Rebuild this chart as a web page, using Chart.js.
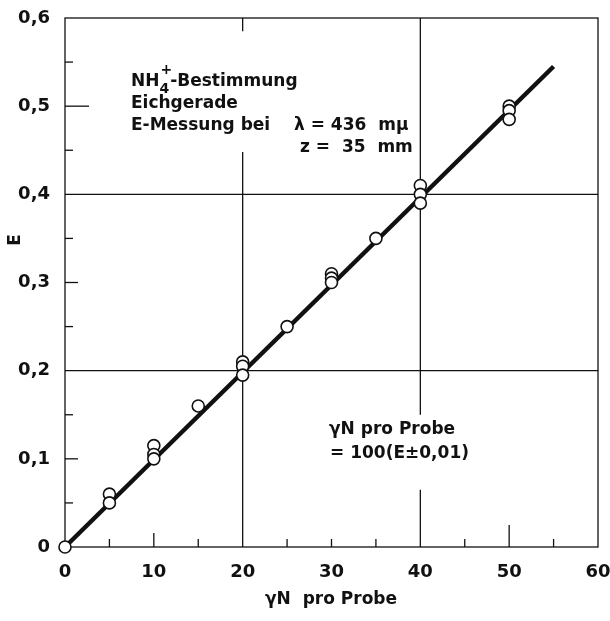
<!DOCTYPE html>
<html>
<head>
<meta charset="utf-8">
<script src="https://cdn.jsdelivr.net/npm/chart.js@4.4.1/dist/chart.umd.min.js"></script>
<style>
  html, body { margin: 0; padding: 0; background: #fff; }
  #wrap { width: 610px; height: 621px; }
</style>
</head>
<body>
<div id="wrap"><canvas id="eich"></canvas></div>
<script>
// measured points: gamma N per sample vs. extinction E
const probeN = [0, 5, 5, 10, 10, 10, 15, 20, 20, 20, 25, 30, 30, 30, 35, 40, 40, 40, 50, 50, 50];
const extinktion = [0, 0.06, 0.05, 0.115, 0.105, 0.10, 0.16, 0.21, 0.205, 0.195, 0.25,
                    0.31, 0.305, 0.30, 0.35, 0.41, 0.40, 0.39, 0.50, 0.495, 0.485];
// calibration line end points
const geradeN = [0, 55];
const geradeE = [0, 0.545];
const xTicks = [0, 10, 20, 30, 40, 50, 60];
const yTicks = [0, 0.1, 0.2, 0.3, 0.4, 0.5, 0.6];

const FONT = '"DejaVu Sans", sans-serif';
const ink = '#111';

function pts(xs, ys) {
    return xs.map((x, i) => ({x: x, y: ys[i]}));
}

const frame = {
    id: 'frame',
    beforeDatasetsDraw(chart) {
        let {ctx, scales: {x, y}} = chart;
        let px = v => x.getPixelForValue(v);
        let py = v => y.getPixelForValue(v);
        ctx.save();
        ctx.strokeStyle = ink;
        ctx.lineWidth = 1.3;
        let seg = (x1, y1, x2, y2) => {
            ctx.beginPath();
            ctx.moveTo(x1, y1);
            ctx.lineTo(x2, y2);
            ctx.stroke();
        };
        // box
        ctx.strokeRect(px(0), py(0.6), px(60) - px(0), py(0) - py(0.6));
        // horizontal grid
        seg(px(0), py(0.2), px(60), py(0.2));
        seg(px(0), py(0.4), px(60), py(0.4));
        // vertical grid, broken where the labels sit
        seg(px(20), py(0.6), px(20), py(0.585));
        seg(px(20), py(0.448), px(20), py(0));
        seg(px(40), py(0.6), px(40), py(0.15));
        seg(px(40), py(0.065), px(40), py(0));
        // x ticks
        for (let v = 5; v < 60; v += 5) {
            if (v === 20 || v === 40) continue;
            let len = v === 50 ? 22 : (v === 10 ? 14 : 8);
            seg(px(v), py(0), px(v), py(0) - len);
        }
        // y ticks
        for (let k = 1; k < 12; k++) {
            let v = k * 0.05;
            if (k === 4 || k === 8) continue;
            let len = k === 10 ? 24 : (k % 2 === 0 ? 13 : 8);
            seg(px(0), py(v), px(0) + len, py(v));
        }
        ctx.restore();
    },
    afterDraw(chart) {
        let {ctx} = chart;
        ctx.save();
        ctx.fillStyle = ink;
        ctx.textBaseline = 'middle';
        ctx.font = 'bold 17px ' + FONT;
        ctx.textAlign = 'left';
        ctx.fillText('NH', 131, 82);
        let w = ctx.measureText('NH').width;
        ctx.font = 'bold 14px ' + FONT;
        ctx.fillText('4', 131 + w, 89);
        ctx.fillText('+', 131 + w + 1, 70);
        let w4 = ctx.measureText('4').width;
        ctx.font = 'bold 17px ' + FONT;
        ctx.fillText('-Bestimmung', 131 + w + w4 + 1, 82);
        ctx.fillText('Eichgerade', 131, 104);
        ctx.fillText('E-Messung bei', 131, 126);
        ctx.fillText('\u03bb = 436  m\u03bc', 294, 126);
        ctx.fillText('z =  35  mm', 300, 148);
        ctx.fillText('\u03b3N pro Probe', 329, 430);
        ctx.fillText('= 100(E\u00b10,01)', 330, 454);
        // axis titles
        ctx.textAlign = 'center';
        ctx.fillText('\u03b3N  pro Probe', 331, 600);
        ctx.translate(16, 240);
        ctx.rotate(-Math.PI / 2);
        ctx.fillText('E', 0, 0);
        ctx.restore();
    }
};

new Chart(document.getElementById('eich'), {
    type: 'scatter',
    data: {
        datasets: [{
            label: 'Eichgerade',
            data: pts(geradeN, geradeE),
            showLine: true,
            borderColor: ink,
            borderWidth: 4.5,
            pointRadius: 0,
            clip: false,
            order: 2
        }, {
            label: 'Messwerte',
            data: pts(probeN, extinktion),
            pointRadius: 6,
            pointBorderWidth: 1.6,
            pointBorderColor: ink,
            pointBackgroundColor: '#fff',
            clip: false,
            order: 1
        }]
    },
    plugins: [frame],
    options: {
        responsive: true,
        maintainAspectRatio: false,
        animation: false,
        layout: {padding: {top: 18, right: 12, left: 0, bottom: 0}},
        plugins: {legend: {display: false}, tooltip: {enabled: false}},
        scales: {
            x: {
                type: 'linear', min: 0, max: 60,
                afterBuildTicks: s => { s.ticks = xTicks.map(v => ({value: v})); },
                afterFit: s => { s.height = 74; s.paddingRight = 0; s.paddingLeft = 0; },
                grid: {display: false},
                border: {display: false},
                ticks: {color: ink, font: {family: FONT, size: 18, weight: 'bold'}, padding: 7}
            },
            y: {
                type: 'linear', min: 0, max: 0.6,
                afterBuildTicks: s => { s.ticks = yTicks.map(v => ({value: v})); },
                afterFit: s => { s.width = 65; s.paddingTop = 0; s.paddingBottom = 0; },
                grid: {display: false},
                border: {display: false},
                ticks: {
                    color: ink, font: {family: FONT, size: 18, weight: 'bold'}, padding: 7,
                    callback: v => v === 0 ? '0' : v.toFixed(1).replace('.', ',')
                }
            }
        }
    }
});
</script>
</body>
</html>
